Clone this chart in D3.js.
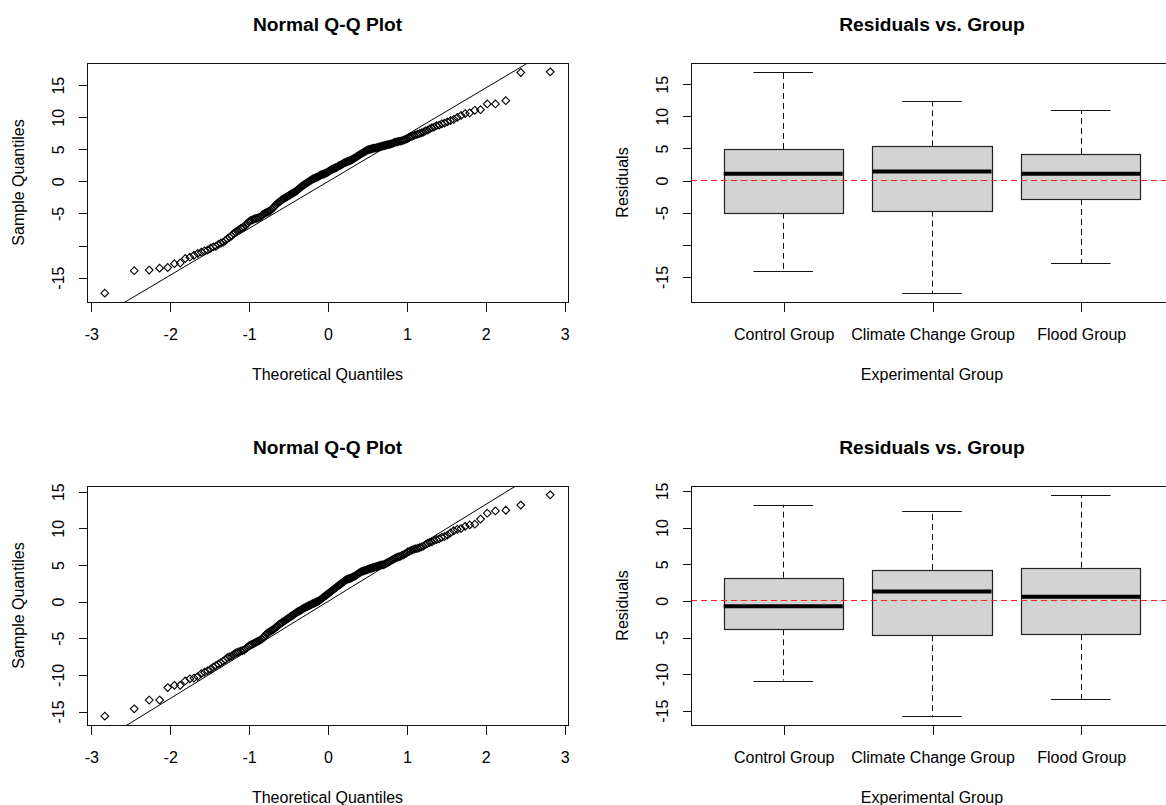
<!DOCTYPE html>
<html>
<head>
<meta charset="utf-8">
<script src="https://cdn.jsdelivr.net/npm/d3@7"></script>
<style>
  body { margin: 0; background: #fff; }
  text { font-family: "Liberation Sans", Arial, sans-serif; fill: #000; }
</style>
</head>
<body>
<svg id="chart" width="1166" height="805"></svg>
<script>
// ---- data -------------------------------------------------------------
// sorted residuals of the first model (210 observations)
const residualsA = [
  -17.5,-14.0,-13.9,-13.6,-13.5,-12.9,-12.8,-12.1,-11.9,-11.6,
  -11.3,-11.1,-10.9,-10.8,-10.5,-10.3,-10.2,-9.9,-9.7,-9.6,
  -9.3,-9.0,-8.8,-8.6,-8.2,-8.0,-7.8,-7.6,-7.4,-7.3,
  -7.2,-6.9,-6.6,-6.4,-6.2,-6.1,-6.0,-5.9,-5.85,-5.8,
  -5.7,-5.6,-5.4,-5.2,-5.1,-5.0,-4.9,-4.8,-4.7,-4.6,
  -4.4,-4.2,-4.0,-3.8,-3.6,-3.5,-3.3,-3.2,-3.0,-2.9,
  -2.8,-2.7,-2.6,-2.5,-2.4,-2.3,-2.2,-2.1,-2.0,-1.9,
  -1.8,-1.7,-1.6,-1.5,-1.3,-1.2,-1.1,-0.9,-0.8,-0.7,
  -0.6,-0.5,-0.4,-0.3,-0.2,-0.1,0.0,0.1,0.2,0.3,
  0.35,0.4,0.5,0.55,0.6,0.7,0.8,0.9,0.95,1.0,
  1.05,1.1,1.2,1.25,1.3,1.4,1.5,1.6,1.7,1.8,
  1.85,1.9,2.0,2.05,2.1,2.2,2.3,2.4,2.45,2.5,
  2.6,2.7,2.8,2.85,2.9,3.0,3.05,3.1,3.15,3.2,
  3.3,3.4,3.5,3.6,3.7,3.8,3.9,4.0,4.1,4.2,
  4.3,4.4,4.5,4.6,4.7,4.8,4.85,4.9,4.95,5.0,
  5.05,5.1,5.1,5.15,5.2,5.25,5.3,5.35,5.4,5.45,
  5.5,5.55,5.6,5.65,5.7,5.75,5.8,5.9,6.0,6.05,
  6.1,6.15,6.2,6.25,6.3,6.4,6.5,6.6,6.75,6.9,
  7.0,7.1,7.2,7.3,7.4,7.5,7.6,7.8,7.9,8.1,
  8.3,8.4,8.6,8.7,8.9,9.0,9.2,9.4,9.6,9.9,
  10.2,10.5,10.6,11.0,11.1,12.0,12.0,12.5,16.9,17.0
];
// sorted residuals of the second model (210 observations)
const residualsB = [
  -15.7,-14.7,-13.5,-13.5,-11.8,-11.5,-11.5,-10.9,-10.6,-10.5,
  -10.3,-9.9,-9.7,-9.5,-9.3,-9.0,-8.8,-8.6,-8.4,-8.2,
  -8.0,-7.7,-7.6,-7.5,-7.3,-7.1,-7.0,-6.9,-6.8,-6.75,
  -6.7,-6.5,-6.3,-6.1,-6.0,-5.9,-5.8,-5.7,-5.6,-5.5,
  -5.4,-5.3,-5.2,-5.0,-4.9,-4.6,-4.4,-4.3,-4.2,-4.1,
  -4.0,-3.9,-3.8,-3.6,-3.5,-3.4,-3.2,-3.1,-3.0,-2.9,
  -2.8,-2.7,-2.6,-2.5,-2.4,-2.3,-2.2,-2.1,-2.0,-1.9,
  -1.8,-1.7,-1.6,-1.5,-1.4,-1.35,-1.3,-1.2,-1.1,-1.0,
  -0.95,-0.9,-0.8,-0.75,-0.7,-0.6,-0.55,-0.5,-0.4,-0.35,
  -0.3,-0.25,-0.2,-0.1,-0.05,0.0,0.1,0.2,0.3,0.4,
  0.5,0.6,0.7,0.8,0.9,1.0,1.1,1.2,1.3,1.4,
  1.5,1.6,1.7,1.8,1.9,2.0,2.1,2.2,2.3,2.4,
  2.5,2.6,2.7,2.8,2.9,2.95,3.0,3.05,3.1,3.15,
  3.2,3.3,3.35,3.4,3.5,3.6,3.7,3.8,3.9,4.0,
  4.05,4.1,4.15,4.2,4.25,4.3,4.35,4.4,4.45,4.5,
  4.55,4.6,4.65,4.7,4.75,4.8,4.85,4.9,4.95,4.95,
  5.0,5.1,5.2,5.3,5.4,5.5,5.6,5.7,5.8,5.9,
  6.0,6.05,6.1,6.2,6.3,6.4,6.5,6.7,6.8,6.9,
  7.0,7.1,7.15,7.2,7.3,7.4,7.5,7.7,7.9,8.0,
  8.1,8.3,8.4,8.5,8.7,8.8,9.0,9.3,9.6,9.8,
  9.9,10.2,10.4,10.5,11.2,12.0,12.3,12.4,13.1,14.5
];
// reference lines: [intercept, slope]
const qqLineA = [-0.15, 7.3];
const qqLineB = [-0.09, 6.62];

const groups = ["Control Group", "Climate Change Group", "Flood Group"];
// per group: [lower whisker, Q1, median, Q3, upper whisker]
const boxStatsA = [
  [-14.1, -5.1, 1.0, 4.85, 16.85],
  [-17.6, -4.75, 1.35, 5.25, 12.3],
  [-12.9, -2.95, 1.0, 4.05, 10.9]
];
const boxStatsB = [
  [-10.95, -3.95, -0.8, 3.1, 13.05],
  [-15.8, -4.75, 1.2, 4.15, 12.15],
  [-13.5, -4.6, 0.5, 4.45, 14.4]
];

const qqXTicks = [-3, -2, -1, 0, 1, 2, 3];
const yTicks = [-15, -10, -5, 0, 5, 10, 15];
const yTickLabelsTop = ["-15", "", "-5", "0", "5", "10", "15"];
const yTickLabelsBottom = ["-15", "-10", "-5", "0", "5", "10", "15"];

// ---- helpers ----------------------------------------------------------
// inverse standard normal CDF (Acklam's rational approximation)
function qnorm(p) {
  const a = [-3.969683028665376e+01, 2.209460984245205e+02, -2.759285104469687e+02,
             1.383577518672690e+02, -3.066479806614716e+01, 2.506628277459239e+00];
  const b = [-5.447609879822406e+01, 1.615858368580409e+02, -1.556989798598866e+02,
             6.680131188771972e+01, -1.328068155288572e+01];
  const c = [-7.784894002430293e-03, -3.223964580411365e-01, -2.400758277161838e+00,
             -2.549732539343734e+00, 4.374664141464968e+00, 2.938163982698783e+00];
  const d = [7.784695709041462e-03, 3.224671290700398e-01, 2.445134137142996e+00,
             3.754408661907416e+00];
  const pl = 0.02425, ph = 1 - pl;
  if (p < pl) {
    const q = Math.sqrt(-2 * Math.log(p));
    return (((((c[0]*q+c[1])*q+c[2])*q+c[3])*q+c[4])*q+c[5]) / ((((d[0]*q+d[1])*q+d[2])*q+d[3])*q+1);
  }
  if (p > ph) {
    const q = Math.sqrt(-2 * Math.log(1 - p));
    return -(((((c[0]*q+c[1])*q+c[2])*q+c[3])*q+c[4])*q+c[5]) / ((((d[0]*q+d[1])*q+d[2])*q+d[3])*q+1);
  }
  const q = p - 0.5, r = q * q;
  return (((((a[0]*r+a[1])*r+a[2])*r+a[3])*r+a[4])*r+a[5])*q / (((((b[0]*r+b[1])*r+b[2])*r+b[3])*r+b[4])*r+1);
}
// axis range with 4% padding on both ends
function padded(ext) {
  const r = ext[1] - ext[0];
  return [ext[0] - 0.04 * r, ext[1] + 0.04 * r];
}

const svg = d3.select("#chart");
const FONT = 16, TITLE_FONT = 19.2;
const marker = d3.symbol().type(d3.symbolDiamond2).size(38);

function frameAndTitles(g, P, title, xTitle, yTitle) {
  g.append("rect")
    .attr("x", P.x0 + 0.5).attr("y", P.y0 + 0.5)
    .attr("width", P.w).attr("height", P.h)
    .attr("fill", "none").attr("stroke", "#111").attr("stroke-width", 1.2)
    .attr("shape-rendering", "crispEdges");
  g.append("text")
    .attr("x", P.x0 + P.w / 2).attr("y", P.y0 - 32)
    .attr("text-anchor", "middle").attr("font-weight", "bold")
    .attr("font-size", TITLE_FONT).text(title);
  g.append("text")
    .attr("x", P.x0 + P.w / 2).attr("y", P.y0 + P.h + 77.6)
    .attr("text-anchor", "middle").attr("font-size", FONT).text(xTitle);
  g.append("text")
    .attr("transform", `translate(${P.x0 - 63.4},${P.y0 + P.h / 2}) rotate(-90)`)
    .attr("text-anchor", "middle").attr("font-size", FONT).text(yTitle);
}

function leftAxis(g, P, y, labels) {
  const ax = g.append("g")
    .attr("transform", `translate(${P.x0 + 0.5},0.5)`)
    .call(d3.axisLeft(y).tickValues(yTicks).tickSize(9).tickSizeOuter(0)
      .tickFormat((d, i) => labels[i]));
  ax.select(".domain").remove();
  ax.selectAll("line").attr("stroke", "#111").attr("shape-rendering", "crispEdges");
  ax.selectAll("text")
    .attr("dy", null).attr("x", 0).attr("y", -23.4)
    .attr("transform", "rotate(-90)")
    .attr("text-anchor", "middle")
    .attr("font-size", FONT)
    .attr("font-family", '"Liberation Sans", Arial, sans-serif')
    .attr("fill", "#000");
}

function bottomAxis(g, P, x, ticks, fmt) {
  const ax = g.append("g")
    .attr("transform", `translate(0.5,${P.y0 + P.h + 0.5})`)
    .call(d3.axisBottom(x).tickValues(ticks).tickSize(9).tickSizeOuter(0).tickFormat(fmt));
  ax.select(".domain").remove();
  ax.selectAll("line").attr("stroke", "#111").attr("shape-rendering", "crispEdges");
  ax.selectAll("text")
    .attr("dy", null).attr("y", 37.6)
    .attr("font-size", FONT)
    .attr("font-family", '"Liberation Sans", Arial, sans-serif')
    .attr("fill", "#000");
}

// ---- normal Q-Q panel -------------------------------------------------
function qqPanel(P, values, line, labels, id) {
  const g = svg.append("g");
  const n = values.length;
  const pts = values.map((v, i) => ({ q: qnorm((i + 1 - 0.5) / n), v }));
  const x = d3.scaleLinear().domain(padded(d3.extent(pts, d => d.q))).range([P.x0, P.x0 + P.w]);
  const y = d3.scaleLinear().domain(padded(d3.extent(values))).range([P.y0 + P.h, P.y0]);

  g.append("clipPath").attr("id", id)
    .append("rect").attr("x", P.x0).attr("y", P.y0).attr("width", P.w + 1).attr("height", P.h + 1);

  g.append("g").selectAll("path").data(pts).join("path")
    .attr("d", marker)
    .attr("transform", d => `translate(${x(d.q)},${y(d.v)})`)
    .attr("fill", "none").attr("stroke", "#000").attr("stroke-width", 1.1);

  const [b0, b1] = x.domain();
  g.append("line")
    .attr("clip-path", `url(#${id})`)
    .attr("x1", x(b0)).attr("y1", y(line[0] + line[1] * b0))
    .attr("x2", x(b1)).attr("y2", y(line[0] + line[1] * b1))
    .attr("stroke", "#000").attr("stroke-width", 1);

  leftAxis(g, P, y, labels);
  bottomAxis(g, P, x, qqXTicks, d => String(d));
  frameAndTitles(g, P, "Normal Q-Q Plot", "Theoretical Quantiles", "Sample Quantiles");
}

// ---- residuals by group panel -----------------------------------------
function boxPanel(P, stats, labels, id) {
  const g = svg.append("g");
  const x = d3.scaleLinear().domain(padded([0.5, groups.length + 0.5])).range([P.x0, P.x0 + P.w]);
  const y = d3.scaleLinear()
    .domain(padded([d3.min(stats, s => s[0]), d3.max(stats, s => s[4])]))
    .range([P.y0 + P.h, P.y0]);
  const half = 0.4, cap = 0.2;

  g.append("clipPath").attr("id", id)
    .append("rect").attr("x", P.x0).attr("y", P.y0).attr("width", P.w + 1).attr("height", P.h + 1);

  const box = g.append("g").selectAll("g").data(stats).join("g");
  // dashed whiskers
  box.append("line")
    .attr("x1", (d, i) => Math.round(x(i + 1)) + 0.5).attr("x2", (d, i) => Math.round(x(i + 1)) + 0.5)
    .attr("y1", d => y(d[3])).attr("y2", d => y(d[4]))
    .attr("stroke", "#111").attr("stroke-dasharray", "6,4");
  box.append("line")
    .attr("x1", (d, i) => Math.round(x(i + 1)) + 0.5).attr("x2", (d, i) => Math.round(x(i + 1)) + 0.5)
    .attr("y1", d => y(d[1])).attr("y2", d => y(d[0]))
    .attr("stroke", "#111").attr("stroke-dasharray", "6,4");
  // staples
  [0, 4].forEach(k => {
    box.append("line")
      .attr("x1", (d, i) => x(i + 1 - cap)).attr("x2", (d, i) => x(i + 1 + cap))
      .attr("y1", d => Math.round(y(d[k])) + 0.5).attr("y2", d => Math.round(y(d[k])) + 0.5)
      .attr("stroke", "#111").attr("stroke-width", 1.2);
  });
  // box body
  box.append("rect")
    .attr("x", (d, i) => Math.round(x(i + 1 - half)) + 0.5)
    .attr("width", (d, i) => Math.round(x(i + 1 + half)) - Math.round(x(i + 1 - half)))
    .attr("y", d => Math.round(y(d[3])) + 0.5)
    .attr("height", d => Math.round(y(d[1])) - Math.round(y(d[3])))
    .attr("fill", "#d3d3d3").attr("stroke", "#222").attr("stroke-width", 1.2);
  // median
  box.append("line")
    .attr("x1", (d, i) => x(i + 1 - half)).attr("x2", (d, i) => x(i + 1 + half))
    .attr("y1", d => y(d[2])).attr("y2", d => y(d[2]))
    .attr("stroke", "#000").attr("stroke-width", 4);

  // zero reference line
  g.append("line")
    .attr("clip-path", `url(#${id})`)
    .attr("x1", P.x0).attr("x2", P.x0 + P.w)
    .attr("y1", Math.round(y(0)) + 0.5).attr("y2", Math.round(y(0)) + 0.5)
    .attr("stroke", "#ff2020").attr("stroke-width", 1.2).attr("stroke-dasharray", "6,4");

  leftAxis(g, P, y, labels);
  bottomAxis(g, P, x, [1, 2, 3], d => groups[d - 1]);
  frameAndTitles(g, P, "Residuals vs. Group", "Experimental Group", "Residuals");
}

// ---- layout -----------------------------------------------------------
const panelTL = { x0: 87, y0: 63, w: 481, h: 239 };
const panelTR = { x0: 691, y0: 63, w: 482, h: 239 };
const panelBL = { x0: 87, y0: 486, w: 481, h: 239 };
const panelBR = { x0: 691, y0: 486, w: 482, h: 239 };

qqPanel(panelTL, residualsA, qqLineA, yTickLabelsTop, "clipQA");
boxPanel(panelTR, boxStatsA, yTickLabelsTop, "clipBA");
qqPanel(panelBL, residualsB, qqLineB, yTickLabelsBottom, "clipQB");
boxPanel(panelBR, boxStatsB, yTickLabelsBottom, "clipBB");
</script>
</body>
</html>
